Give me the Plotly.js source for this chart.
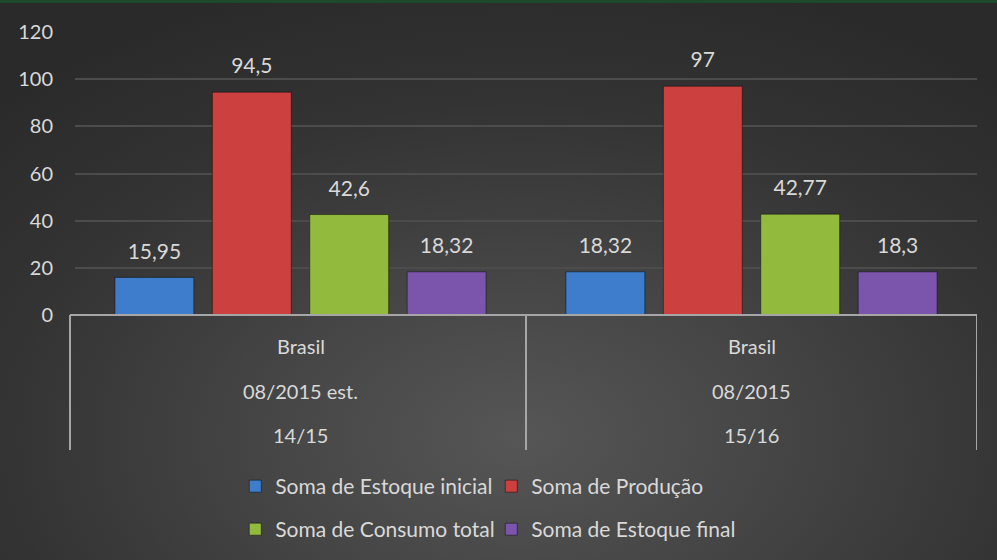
<!DOCTYPE html>
<html>
<head>
<meta charset="utf-8">
<script src="https://cdn.plot.ly/plotly-3.0.1.min.js"></script>
<style>
  html, body { margin: 0; padding: 0; }
  body {
    width: 997px; height: 560px; overflow: hidden;
    background: radial-gradient(ellipse 75% 85% at 52% 78%, #565656 0%, #454545 35%, #333333 70%, #2a2a2a 100%);
  }
  #topbar { position: absolute; left: 0; top: 0; width: 997px; height: 3px; background: #1c4a2b; }
  #chart { width: 997px; height: 560px; }
</style>
</head>
<body>
<div id="topbar"></div>
<div id="chart"></div>
<script>
// ---- data ----
const categories = ["14/15", "15/16"];
const level1 = ["Brasil", "Brasil"];
const level2 = ["08/2015 est.", "08/2015"];
const level3 = ["14/15", "15/16"];
const seriesNames = ["Soma de Estoque inicial", "Soma de Produção", "Soma de Consumo total", "Soma de Estoque final"];
const estoqueInicial = [15.95, 18.32];
const producao = [94.5, 97];
const consumoTotal = [42.6, 42.77];
const estoqueFinal = [18.32, 18.3];
const yTicks = [0, 20, 40, 60, 80, 100, 120];

const seriesValues = [estoqueInicial, producao, consumoTotal, estoqueFinal];
const colors = ["#3d7dcc", "#cd4040", "#92ba3c", "#7b55ab"];
const legendIds = ["legend", "legend", "legend2", "legend2"];
const fmt = v => String(v).replace(".", ",");
const FONT = "Lato, 'Open Sans', sans-serif";
const TXT = "#d9d9d9";
const BARGAP = 0.136;

const barTraces = seriesValues.map((vals, i) => ({
  type: "bar",
  name: seriesNames[i],
  x: categories,
  y: vals,
  marker: { color: colors[i], line: { color: "rgba(0,0,0,0.45)", width: 1 } },
  legend: legendIds[i],
  hoverinfo: "skip"
}));

// value labels: grouped text-only scatter traces aligned with the bars
const labelTraces = seriesValues.map((vals, i) => ({
  type: "scatter",
  mode: "markers+text",
  x: categories,
  y: vals,
  text: vals.map(fmt),
  textposition: "top center",
  textfont: { family: FONT, size: 21, color: TXT },
  marker: { size: 20, color: "rgba(0,0,0,0)" },
  cliponaxis: false,
  showlegend: false,
  hoverinfo: "skip"
}));

const annotations = [];
categories.forEach((c, k) => {
  [level1, level2, level3].forEach((lvl, j) => {
    annotations.push({
      x: c, xref: "x", y: 0, yref: "paper",
      yshift: -31 - j * 44.5, yanchor: "middle",
      text: lvl[k], showarrow: false,
      font: { family: FONT, size: 20, color: TXT }
    });
  });
});

const PLOT_W = 997 - 75 - 20;
const leftX = -5 / PLOT_W;
const shapes = [
  { type: "line", xref: "paper", yref: "paper", x0: leftX, x1: leftX, y0: 0, y1: -135 / 283,
    line: { color: "#a6a6a6", width: 2 } },
  { type: "line", xref: "paper", yref: "paper", x0: leftX, x1: 1, y0: 0, y1: 0,
    line: { color: "#a6a6a6", width: 2 } }
].concat([0.5, 1.5].map(xv => ({
  type: "line", xref: "x", yref: "paper",
  x0: xv, x1: xv, y0: 0, y1: -135 / 283,
  line: { color: "#a6a6a6", width: 2 }
})));

const layout = {
  width: 997, height: 560,
  margin: { l: 75, r: 20, t: 32, b: 245 },
  paper_bgcolor: "rgba(0,0,0,0)",
  plot_bgcolor: "rgba(0,0,0,0)",
  font: { family: FONT, color: TXT, size: 20 },
  barmode: "group",
  bargap: BARGAP,
  bargroupgap: 0.19,
  scattermode: "group",
  scattergap: BARGAP,
  showlegend: true,
  xaxis: {
    type: "category",
    range: [-0.5, 1.5],
    showticklabels: false,
    showgrid: false,
    zeroline: false,
    showline: false,
    ticks: ""
  },
  yaxis: {
    range: [0, 120],
    tickvals: yTicks,
    ticktext: yTicks.map(String),
    showgrid: true, gridcolor: "#4c4c4c", gridwidth: 2,
    zeroline: false,
    showline: false,
    ticks: "",
    ticklabelstandoff: 21,
    tickfont: { family: FONT, size: 20, color: TXT }
  },
  legend: {
    orientation: "h", xref: "container", yref: "container",
    x: 0.236, y: 1 - 466 / 560, xanchor: "left", yanchor: "top",
    entrywidth: 211, bgcolor: "rgba(0,0,0,0)",
    font: { family: FONT, size: 21, color: TXT }
  },
  legend2: {
    orientation: "h", xref: "container", yref: "container",
    x: 0.236, y: 1 - 509 / 560, xanchor: "left", yanchor: "top",
    entrywidth: 211, bgcolor: "rgba(0,0,0,0)",
    font: { family: FONT, size: 21, color: TXT }
  },
  annotations: annotations,
  shapes: shapes
};

Plotly.newPlot("chart", barTraces.concat(labelTraces), layout, { displayModeBar: false, staticPlot: true });
</script>
</body>
</html>
